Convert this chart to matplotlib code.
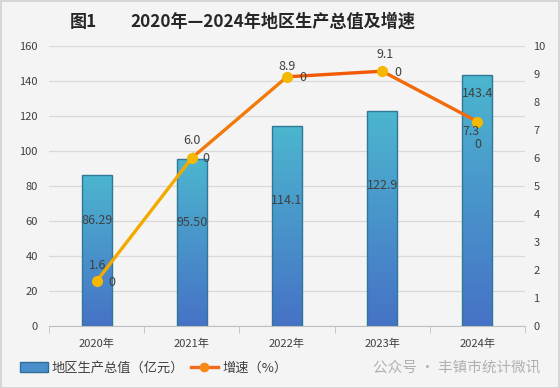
import numpy as np
import matplotlib.pyplot as plt
from matplotlib.colors import to_rgb
from matplotlib.lines import Line2D
from matplotlib.patches import Patch

plt.rcParams['font.family'] = ['Noto Sans CJK SC', 'DejaVu Sans']

# 数据
years = ['2020年', '2021年', '2022年', '2023年', '2024年']
gdp = [86.29, 95.50, 114.1, 122.9, 143.4]
gdp_labels = ['86.29', '95.50', '114.1', '122.9', '143.4']
growth = [1.6, 6.0, 8.9, 9.1, 7.3]
growth_labels = ['1.6', '6.0', '8.9', '9.1', '7.3']

# 标签位置 (数据坐标 / 像素偏移)
bar_label_y = [60, 59, 71.5, 80.5, 133]
val_off = [(1, 16), (0, 17), (0, 10), (3, 17), (-6, -10)]
zero_off = [(15, -1), (14, -1), (16, -1), (16, -1), (0, -23)]

bg = '#F4F4F4'
fig = plt.figure(figsize=(5.6, 3.88), dpi=100, facecolor=bg)
fig.patches.append(plt.Rectangle((0.001, 0.001), 0.997, 0.996, transform=fig.transFigure,
                                 fill=False, edgecolor='#D0D0D0', lw=1.2))

ax = fig.add_axes([49 / 560, 62 / 388, 476 / 560, 280 / 388])
ax.set_facecolor(bg)
x = np.arange(len(years))

# 柱子 (渐变)
top_c = np.array(to_rgb('#4CB6CF'))
bot_c = np.array(to_rgb('#4672C6'))
grad = np.linspace(0, 1, 256)[:, None, None] * (top_c - bot_c) + bot_c
bars = ax.bar(x, gdp, width=0.315, color='none', edgecolor='#2F7898', lw=1, zorder=3)
for b in bars:
    x0, w, h = b.get_x(), b.get_width(), b.get_height()
    im = ax.imshow(grad, extent=[x0, x0 + w, 0, h], origin='lower', aspect='auto', zorder=2)
    im.set_clip_path(b)

for i in range(len(years)):
    ax.text(x[i], bar_label_y[i], gdp_labels[i], ha='center', va='center', fontsize=9,
            color='#404040', zorder=5)

ax.set_xlim(-0.5, 4.5)
ax.set_ylim(0, 160)
ax.set_yticks(range(0, 161, 20))
ax.grid(axis='y', color='#D9D9D9', lw=0.9, zorder=0)
ax.set_axisbelow(True)
for s in ['top', 'left', 'right']:
    ax.spines[s].set_visible(False)
ax.spines['bottom'].set_color('#BFBFBF')
ax.set_xticks(x)
ax.set_xticklabels(years)
ax.set_xticks(np.arange(-0.5, 5, 1), minor=True)
ax.tick_params(axis='x', which='major', length=0, pad=9, labelsize=8, labelcolor='#404040')
ax.tick_params(axis='x', which='minor', length=5, color='#BFBFBF')
ax.tick_params(axis='y', length=0, pad=8, labelsize=8, labelcolor='#404040')

# 增速折线
ax2 = ax.twinx()
ax2.set_ylim(0, 10)
ax2.set_yticks(range(0, 11))
for s in ax2.spines.values():
    s.set_visible(False)
ax2.tick_params(axis='y', length=0, pad=6, labelsize=8, labelcolor='#404040')

seg_colors = ['#F2A900', '#F27A0A', '#F25A05', '#F26A0A']
for i in range(len(x) - 1):
    ax2.plot(x[i:i + 2], growth[i:i + 2], color=seg_colors[i], lw=2.4,
             solid_capstyle='round', zorder=3)
ax2.plot(x, growth, 'o', color='#F5B800', ms=7, zorder=4)

for i in range(len(x)):
    ax2.annotate(growth_labels[i], (x[i], growth[i]), xytext=val_off[i],
                 textcoords='offset pixels', ha='center', va='center', fontsize=9,
                 color='#404040', zorder=5)
    ax2.annotate('0', (x[i], growth[i]), xytext=zero_off[i],
                 textcoords='offset pixels', ha='center', va='center', fontsize=9,
                 color='#404040', zorder=5)

# 引导线
ax2.annotate('', (x[3], growth[3]), xytext=(3, 6), textcoords='offset pixels',
             arrowprops=dict(arrowstyle='-', color='#A6A6A6', lw=0.8))
ax2.annotate('', (x[1], growth[1]), xytext=(2, 8), textcoords='offset pixels',
             arrowprops=dict(arrowstyle='-', color='#A6A6A6', lw=0.8))

# 标题
fig.text(70 / 560, 1 - 22 / 388, '图1', fontsize=12.3, fontweight='bold', color='#262626',
         va='center', ha='left')
fig.text(130 / 560, 1 - 22 / 388, '2020年—2024年地区生产总值及增速', fontsize=12.3,
         fontweight='bold', color='#262626', va='center', ha='left')

# 图例
handles = [Patch(facecolor='#4A8FCB', edgecolor='#2F6E98', lw=1),
           Line2D([0], [0], color='#F26A1A', lw=2.4, marker='o', ms=6,
                  markerfacecolor='#F58A1A', markeredgecolor='#F58A1A')]
fig.legend(handles, ['地区生产总值（亿元）', '增速（%）'], loc='center left', ncol=2,
           bbox_to_anchor=(8 / 560, 1 - 368 / 388), frameon=False, fontsize=9.5,
           handlelength=2.1, handletextpad=0.3, columnspacing=0.5, labelcolor='#404040')

# 水印
fig.text(373 / 560, 1 - 368 / 388, '公众号 · 丰镇市统计微讯', fontsize=10.5,
         color='#9A9A9A', alpha=0.75, va='center', ha='left')

fig.savefig('out.png', dpi=100, facecolor=bg)
